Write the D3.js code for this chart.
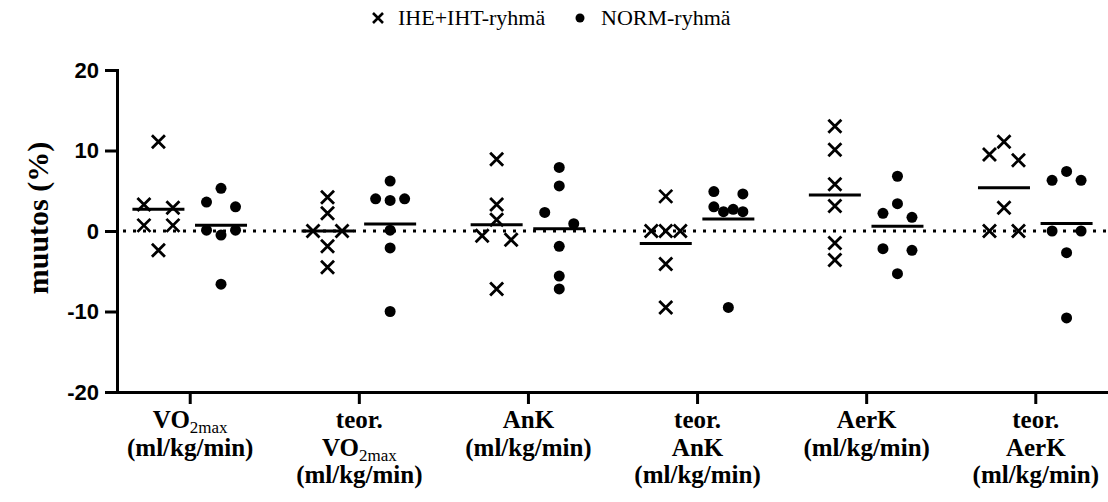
<!DOCTYPE html>
<html>
<head>
<meta charset="utf-8">
<script src="https://cdn.jsdelivr.net/npm/d3@7"></script>
<style>
  body { margin: 0; background: #fff; }
  svg { display: block; }
</style>
</head>
<body>
<svg id="chart"></svg>
<script>
(() => {
// categories on the x axis and the two groups
let categories = ['VO2max', 'teor. VO2max', 'AnK', 'teor. AnK', 'AerK', 'teor. AerK'];
let groups = ['IHE+IHT-ryhmä', 'NORM-ryhmä'];

// label lines, "_{...}" marks a subscript
let labelLines = [
  ['VO_{2max}', '(ml/kg/min)'],
  ['teor.', 'VO_{2max}', '(ml/kg/min)'],
  ['AnK', '(ml/kg/min)'],
  ['teor.', 'AnK', '(ml/kg/min)'],
  ['AerK', '(ml/kg/min)'],
  ['teor.', 'AerK', '(ml/kg/min)']
];

// change (%) per subject, one list per category
let iheValues = [
  [11.1, 3.3, 2.9, 0.7, 0.7, -2.4],
  [4.2, 2.2, 0.0, 0.0, -1.9, -4.5],
  [8.9, 3.3, 1.4, -0.6, -1.1, -7.2],
  [4.3, 0.0, 0.0, 0.0, -4.1, -9.5],
  [13.0, 10.1, 5.8, 3.1, -1.5, -3.6],
  [11.1, 9.5, 8.8, 2.9, 0.0, 0.0]
];
let normValues = [
  [5.3, 3.6, 3.0, 0.1, -0.5, 0.1, -6.6],
  [6.2, 4.0, 3.8, 4.0, 0.1, -2.1, -10.0],
  [7.9, 5.6, 2.3, 0.9, -1.9, -5.6, -7.2],
  [4.9, 4.6, 3.0, 2.4, 2.7, 2.4, -9.5],
  [6.8, 2.2, 3.4, 1.7, -2.2, -2.4, -5.3],
  [6.3, 7.4, 6.3, 0.0, 0.0, -2.7, -10.8]
];

let yTicks = [-20, -10, 0, 10, 20];

let svgWidth = 1108,
    svgHeight = 502,
    axisLeftX = 117,
    axisRightX = 1108,
    plotTop = 70,
    plotBottom = 392,
    meanHalf = 26,
    swarmHalf = 14.5,
    clusterGap = 12.5;

let svg = d3.select('#chart')
    .attr('width', svgWidth)
    .attr('height', svgHeight);

let xScale = d3.scalePoint()
    .domain(categories)
    .range([axisLeftX, axisRightX])
    .padding(0.43);

let groupScale = d3.scalePoint()
    .domain(groups)
    .range([-31.3, 31.3]);

let yScale = d3.scaleLinear()
    .domain([-20, 20])
    .range([plotBottom, plotTop]);

// simple swarm: close values share a row and get spread sideways
function swarm(values) {
  let idx = values.map((v, i) => i).sort((a, b) => values[b] - values[a] || a - b);
  let clusters = [], cur = [idx[0]];
  for (let k = 1; k < idx.length; k++) {
    if (yScale(values[idx[k]]) - yScale(values[idx[k - 1]]) < clusterGap) cur.push(idx[k]);
    else { clusters.push(cur); cur = [idx[k]]; }
  }
  clusters.push(cur);
  let offsets = [];
  clusters.forEach(c => {
    c.sort((a, b) => a - b);
    c.forEach((i, j) => {
      offsets[i] = c.length === 1 ? 0 : -swarmHalf + 2 * swarmHalf * j / (c.length - 1);
    });
  });
  return offsets;
}

let points = [], means = [];
categories.forEach((cat, ci) => {
  [iheValues[ci], normValues[ci]].forEach((vals, gi) => {
    let offs = swarm(vals);
    vals.forEach((v, i) => points.push({ cat: cat, group: groups[gi], value: v, dx: offs[i] }));
    means.push({ cat: cat, group: groups[gi], value: d3.mean(vals) });
  });
});

// zero reference line
svg.append('line')
    .attr('x1', axisLeftX + 6)
    .attr('x2', axisRightX)
    .attr('y1', yScale(0))
    .attr('y2', yScale(0))
    .attr('stroke', '#000')
    .attr('stroke-width', 3)
    .attr('stroke-dasharray', '3,7');

// axes
let yAxis = svg.append('g')
    .attr('transform', `translate(${axisLeftX},0)`)
    .call(d3.axisLeft(yScale)
      .tickValues(yTicks)
      .tickFormat(d => String(d))
      .tickSize(12)
      .tickSizeOuter(0)
      .tickPadding(6));
yAxis.selectAll('path, line').attr('stroke', '#000').attr('stroke-width', 3);
yAxis.select('.domain').attr('stroke-linecap', 'square');
yAxis.selectAll('text')
    .attr('fill', '#000')
    .style('font-family', '"Liberation Sans", Arial, sans-serif')
    .style('font-weight', 'bold')
    .style('font-size', '22px');

let xAxis = svg.append('g')
    .attr('transform', `translate(0,${plotBottom})`)
    .call(d3.axisBottom(xScale).tickSize(12).tickSizeOuter(0).tickFormat(''));
xAxis.selectAll('path, line').attr('stroke', '#000').attr('stroke-width', 3);

// category labels, rebuilt with line breaks and subscripts
xAxis.selectAll('.tick text').remove();
xAxis.selectAll('.tick').each(function(d) {
  let lines = labelLines[categories.indexOf(d)];
  let t = d3.select(this).append('text')
      .attr('text-anchor', 'middle')
      .attr('fill', '#000')
      .style('font-family', '"Liberation Serif", "Times New Roman", serif')
      .style('font-weight', 'bold')
      .style('font-size', '25px');
  lines.forEach((line, li) => {
    let y = 36 + li * 27.5;
    let m = line.match(/^(.*)_\{(.*)\}$/);
    if (m) {
      t.append('tspan').attr('x', 0).attr('y', y).text(m[1]);
      t.append('tspan').attr('dy', 5).style('font-weight', 'normal').style('font-size', '17px').text(m[2]);
    } else {
      t.append('tspan').attr('x', 0).attr('y', y).text(line);
    }
  });
});

// y title
svg.append('text')
    .attr('transform', `translate(48,${(plotTop + plotBottom) / 2 - 13}) rotate(-90)`)
    .attr('text-anchor', 'middle')
    .attr('fill', '#000')
    .style('font-family', '"Liberation Serif", "Times New Roman", serif')
    .style('font-weight', 'bold')
    .style('font-size', '30px')
    .text('muutos (%)');

// mean lines
svg.selectAll('.mean')
    .data(means)
    .enter()
    .append('line')
    .attr('class', 'mean')
    .attr('x1', d => xScale(d.cat) + groupScale(d.group) - meanHalf)
    .attr('x2', d => xScale(d.cat) + groupScale(d.group) + meanHalf)
    .attr('y1', d => yScale(d.value))
    .attr('y2', d => yScale(d.value))
    .attr('stroke', '#000')
    .attr('stroke-width', 3);

// points
let cross = 'M-6.5,-6.5L6.5,6.5M-6.5,6.5L6.5,-6.5';
svg.selectAll('.ihe')
    .data(points.filter(d => d.group === groups[0]))
    .enter()
    .append('path')
    .attr('class', 'ihe')
    .attr('d', cross)
    .attr('transform', d => `translate(${xScale(d.cat) + groupScale(d.group) + d.dx},${yScale(d.value)})`)
    .attr('fill', 'none')
    .attr('stroke', '#000')
    .attr('stroke-width', 2.8);

svg.selectAll('.norm')
    .data(points.filter(d => d.group === groups[1]))
    .enter()
    .append('circle')
    .attr('class', 'norm')
    .attr('cx', d => xScale(d.cat) + groupScale(d.group) + d.dx)
    .attr('cy', d => yScale(d.value))
    .attr('r', 5.5)
    .attr('fill', '#000');

// legend
let legend = svg.append('g').attr('transform', 'translate(0,18)');
legend.append('path')
    .attr('d', 'M-5,-5L5,5M-5,5L5,-5')
    .attr('transform', 'translate(378,0)')
    .attr('stroke', '#000')
    .attr('stroke-width', 2.6);
legend.append('circle')
    .attr('cx', 580)
    .attr('r', 4.5)
    .attr('fill', '#000');
legend.selectAll('text')
    .data(groups)
    .enter()
    .append('text')
    .attr('x', (d, i) => i === 0 ? 398 : 601)
    .attr('y', 7)
    .attr('fill', '#000')
    .style('font-family', '"Liberation Serif", "Times New Roman", serif')
    .style('font-size', '22px')
    .text(d => d);
})();
</script>
</body>
</html>
